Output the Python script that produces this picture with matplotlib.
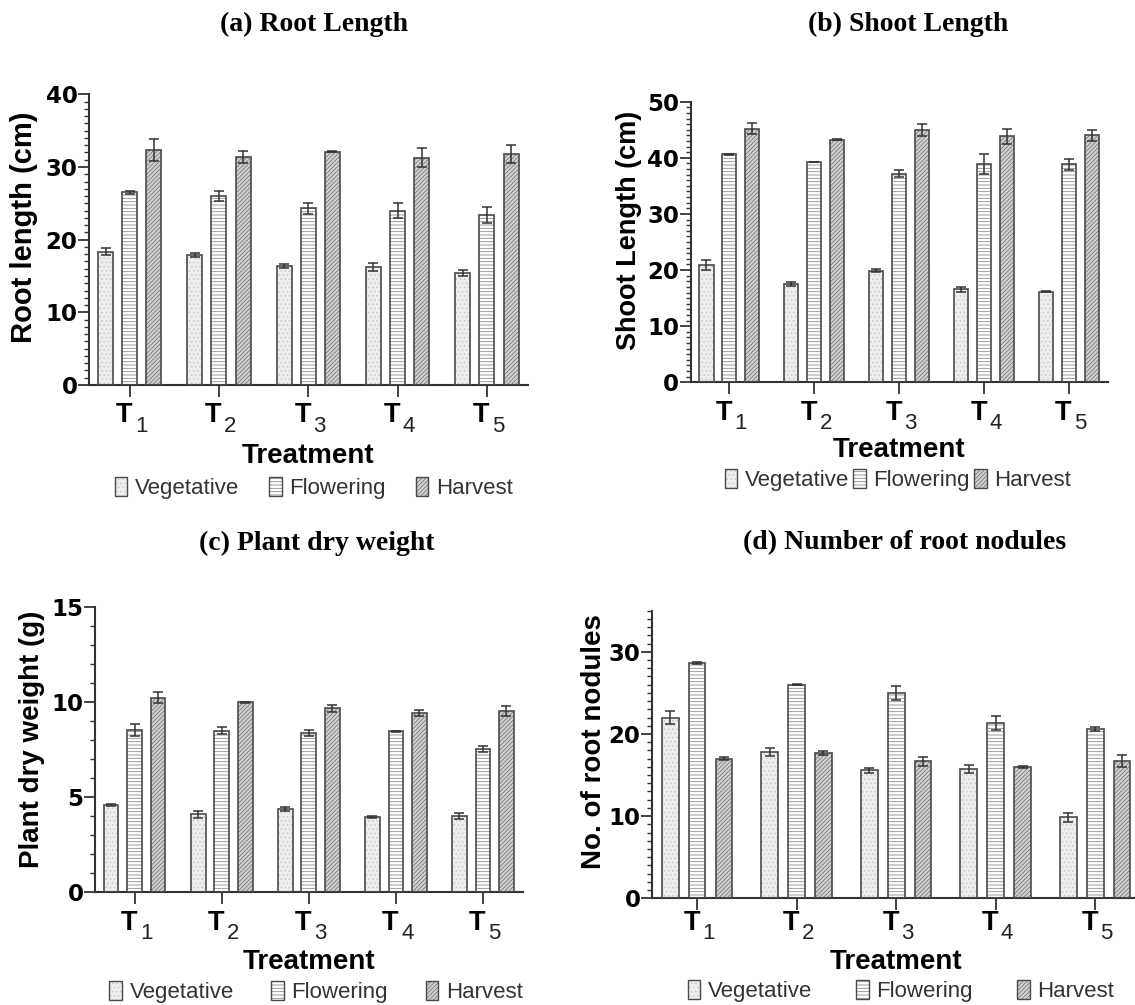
import numpy as np
import matplotlib.pyplot as plt
from matplotlib.patches import Patch
from matplotlib.ticker import MultipleLocator

plt.rcParams['font.family'] = ['Liberation Sans', 'DejaVu Sans']
plt.rcParams['hatch.linewidth'] = 0.6

treatments = ['1', '2', '3', '4', '5']
stages = ['Vegetative', 'Flowering', 'Harvest']

# (a) root length, cm
root_len = [[18.35, 17.9, 16.4, 16.3, 15.4],
            [26.5, 25.95, 24.3, 24.0, 23.4],
            [32.35, 31.4, 32.1, 31.3, 31.8]]
root_err = [[0.5, 0.25, 0.3, 0.55, 0.45],
            [0.2, 0.7, 0.8, 1.0, 1.15],
            [1.5, 0.8, 0.05, 1.3, 1.2]]

# (b) shoot length, cm
shoot_len = [[20.85, 17.45, 19.9, 16.55, 16.15],
             [40.6, 39.25, 37.2, 38.9, 38.85],
             [45.2, 43.2, 44.95, 43.8, 44.0]]
shoot_err = [[0.9, 0.35, 0.3, 0.4, 0.05],
             [0.1, 0.05, 0.7, 1.8, 1.0],
             [1.0, 0.1, 1.0, 1.3, 1.0]]

# (c) plant dry weight, g
dry_wt = [[4.59, 4.1, 4.38, 3.96, 4.0],
          [8.55, 8.5, 8.39, 8.46, 7.52],
          [10.23, 9.99, 9.67, 9.43, 9.53]]
dry_err = [[0.03, 0.2, 0.11, 0.06, 0.15],
           [0.32, 0.2, 0.16, 0.02, 0.16],
           [0.29, 0.02, 0.2, 0.18, 0.25]]

# (d) number of root nodules
nodules = [[21.99, 17.76, 15.6, 15.73, 9.84],
           [28.66, 26.0, 25.0, 21.34, 20.65],
           [16.99, 17.68, 16.7, 15.98, 16.7]]
nod_err = [[0.8, 0.5, 0.3, 0.5, 0.5],
           [0.1, 0.03, 0.85, 0.83, 0.25],
           [0.15, 0.2, 0.55, 0.15, 0.75]]

W, H = 1135, 1005
fig = plt.figure(figsize=(W / 100, H / 100), dpi=100)

fills = ['#eeeeee', 'white', '#d2d2d2']
hatches = ['....', '-----', '////////']
hatch_cols = ['#c8c8c8', '#8a8a8a', '#7a7a7a']
edge = '#4a4a4a'

panels = [
    # data, err, ylim, major, axes px (l, r, top, bottom), title, title xy, ylabel, ylabel xy, ylabel size,
    # tick label drop, xlabel offset, legend xy, colspacing
    (root_len, root_err, 40, 10, (89, 528, 94.3, 385), '(a) Root Length', (314, 24),
     'Root length (cm)', (24, 227), 21, 0, -56, (314, 488), 1.35),
    (shoot_len, shoot_err, 50, 10, (690.7, 1108, 101.7, 382.3), '(b) Shoot Length', (908, 24),
     'Shoot Length (cm)', (629, 230), 19.5, 0, -54, (898, 480), 0.2),
    (dry_wt, dry_err, 15, 5, (95, 523, 607, 892.3), '(c) Plant dry weight', (317, 543),
     'Plant dry weight (g)', (32, 739), 20, 0, -55, (316, 992), 1.7),
    (nodules, nod_err, 35, 10, (651.8, 1141, 610.7, 898.3), '(d) Number of root nodules', (905, 543),
     'No. of root nodules', (594, 742), 20, 4.5, -51, (901, 991), 2.0),
]

x = np.arange(len(treatments))
bw = 0.168
offs = [-0.27, 0, 0.27]

for (vals, errs, ytop, major, box, title, txy, ylab, lxy, lsize,
     lift, xoff, legxy, cs) in panels:
    l, r, t, b = box
    ax = fig.add_axes([l / W, 1 - b / H, (r - l) / W, (b - t) / H])
    for k in range(3):
        ax.bar(x + offs[k], vals[k], bw, color=fills[k], hatch=hatches[k],
               edgecolor=hatch_cols[k], linewidth=0, zorder=2)
        ax.bar(x + offs[k], vals[k], bw, fill=False, edgecolor=edge, linewidth=1.2,
               yerr=errs[k], zorder=3,
               error_kw=dict(ecolor='#333333', elinewidth=1.1, capsize=3.5, capthick=1.1))
    ax.set_xlim(-0.455, 4.46)
    ax.set_ylim(0, ytop)
    ax.yaxis.set_major_locator(MultipleLocator(major))
    ax.yaxis.set_minor_locator(MultipleLocator(1))
    for s in ['top', 'right']:
        ax.spines[s].set_visible(False)
    for s in ['left', 'bottom']:
        ax.spines[s].set_color('#333333')
        ax.spines[s].set_linewidth(1.5)
    ax.tick_params(axis='y', which='major', length=7.7, width=1.3, color='#333333',
                   labelsize=16.5, pad=0.5)
    ax.tick_params(axis='y', which='minor', length=3.6, width=1, color='#333333')
    for lab in ax.get_yticklabels():
        lab.set_fontweight('bold')
        lab.set_family('DejaVu Sans')
    ax.set_xticks(x)
    ax.set_xticklabels([])
    ax.tick_params(axis='x', length=8.4, width=1.3, color='#333333')
    tr = ax.get_xaxis_transform()
    for i, tnum in enumerate(treatments):
        ax.annotate('T', xy=(i, 0), xycoords=tr, xytext=(2, -27 + lift), textcoords='offset points',
                    ha='right', va='baseline', fontsize=19.5, fontweight='bold')
        ax.annotate(tnum, xy=(i, 0), xycoords=tr, xytext=(3.8, -33.6 + lift),
                    textcoords='offset points', ha='left', va='baseline',
                    fontsize=16, color='#222222')
    ax.annotate('Treatment', xy=(0.5, 0), xycoords='axes fraction', xytext=(0, xoff),
                textcoords='offset points', ha='center', va='baseline',
                fontsize=20, fontweight='bold')
    fig.text(lxy[0] / W, 1 - lxy[1] / H, ylab, rotation=90, ha='center', va='center',
             fontsize=lsize, fontweight='bold')
    fig.text(txy[0] / W, 1 - txy[1] / H, title, ha='center', va='center',
             fontsize=20, fontweight='bold', family='Liberation Serif')
    handles = [(Patch(facecolor=fills[k], hatch=hatches[k], edgecolor=hatch_cols[k], linewidth=0),
                Patch(fill=False, edgecolor=edge, linewidth=1.0)) for k in range(3)]
    fig.legend(handles, stages, loc='center', bbox_to_anchor=(legxy[0] / W, 1 - legxy[1] / H),
               ncol=3, frameon=False, fontsize=16, handlelength=0.55, handleheight=0.95,
               handletextpad=0.35, columnspacing=cs, labelcolor='#333333', borderpad=0)

fig.savefig('out.png', dpi=100)
